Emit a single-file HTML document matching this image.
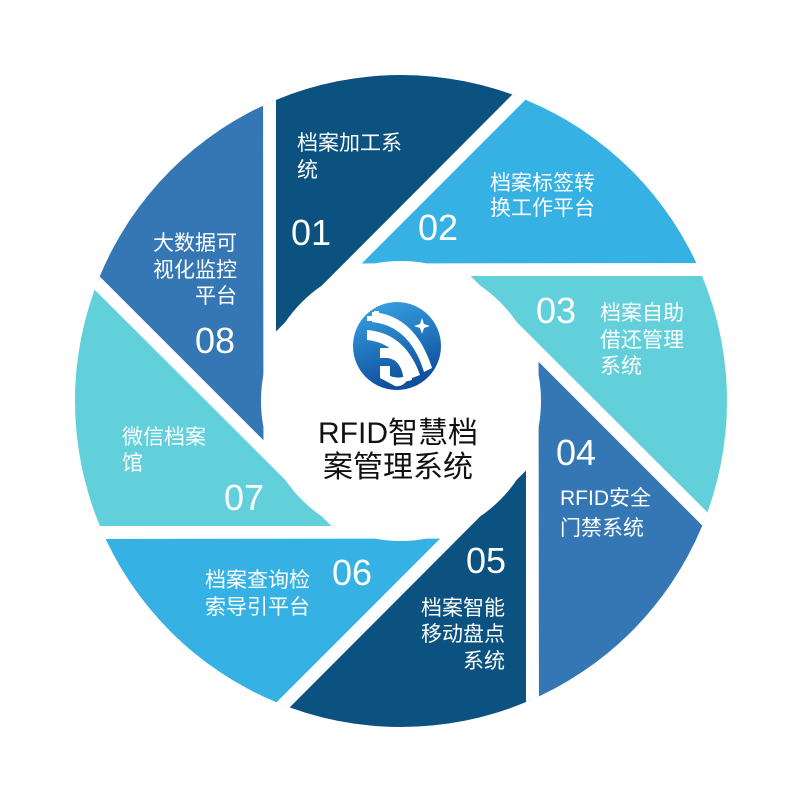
<!DOCTYPE html>
<html><head><meta charset="utf-8"><style>
html,body{margin:0;padding:0;background:#fff;width:800px;height:800px;overflow:hidden;position:relative;}
svg{display:block;position:absolute;left:0;top:0;overflow:hidden}
text{font-family:"Liberation Sans","Noto Sans CJK SC",sans-serif;fill:#fff;}
.l{font-size:21px}
.n{font-size:36px}
</style></head><body>
<svg width="800" height="800" viewBox="0 0 800 800">
<defs>
<clipPath id="c"><circle cx="401" cy="401" r="326"/></clipPath>
<linearGradient id="g" x1="0" y1="0" x2="0.3" y2="1">
<stop offset="0" stop-color="#3aa7e6"/><stop offset="1" stop-color="#0f4f9e"/>
</linearGradient>
</defs>
<g clip-path="url(#c)" stroke="#fff" stroke-width="12" stroke-linejoin="miter">
<polygon points="270,346 270,-300 1100,-486" fill="#0b5281" transform="rotate(0 401 401)"/>
<polygon points="270,346 270,-300 1100,-486" fill="#35b1e3" transform="rotate(45 401 401)"/>
<polygon points="270,346 270,-300 1100,-486" fill="#62d0db" transform="rotate(90 401 401)"/>
<polygon points="270,346 270,-300 1100,-486" fill="#3577b4" transform="rotate(135 401 401)"/>
<polygon points="270,346 270,-300 1100,-486" fill="#0b5281" transform="rotate(180 401 401)"/>
<polygon points="270,346 270,-300 1100,-486" fill="#35b1e3" transform="rotate(225 401 401)"/>
<polygon points="270,346 270,-300 1100,-486" fill="#62d0db" transform="rotate(270 401 401)"/>
<polygon points="270,346 270,-300 1100,-486" fill="#3577b4" transform="rotate(315 401 401)"/>
</g>
<circle cx="401" cy="401" r="140" fill="#fff"/>
<circle cx="397" cy="346" r="44" fill="url(#g)"/>
<path d="M372 312 Q415 315 432 368 L424 372 Q410 326 372 322Z" fill="#fff"/>
<path d="M367 330 Q405 333 420 375 L412 378 Q398 343 367 340Z" fill="#fff"/>
<path d="M380 348 L395 348 Q410 355 412 380 L404 382 Q402 360 388 358 L380 358Z" fill="#fff"/>
<path d="M380 366 L390 366 L390 376 Q400 380 410 374 Q405 388 395 386 L380 378Z" fill="#fff"/>
<rect x="367" y="316" width="5" height="5" fill="#fff"/><rect x="374" y="311" width="5" height="5" fill="#fff"/>
<path d="M422 318 l2 6 6 2 -6 2 -2 6 -2 -6 -6 -2 6 -2z" fill="#fff"/>
<text x="398" y="443" text-anchor="middle" style="fill:#111;font-size:30px">RFID智慧档</text>
<text x="398" y="477" text-anchor="middle" style="fill:#111;font-size:30px">案管理系统</text>
<text class="l" x="297" y="150">档案加工系</text><text class="l" x="297" y="177">统</text>
<text class="n" x="291" y="245">01</text>
<text class="l" x="490" y="190">档案标签转</text><text class="l" x="490" y="215">换工作平台</text>
<text class="n" x="418" y="240">02</text>
<text class="n" x="536" y="323">03</text>
<text class="l" x="600" y="320">档案自助</text><text class="l" x="600" y="347">借还管理</text><text class="l" x="600" y="373">系统</text>
<text class="n" x="556" y="465">04</text>
<text class="l" x="560" y="505">RFID安全</text><text class="l" x="560" y="535">门禁系统</text>
<text class="n" x="466" y="573">05</text>
<text class="l" x="505" y="615" text-anchor="end">档案智能</text><text class="l" x="505" y="641" text-anchor="end">移动盘点</text><text class="l" x="505" y="668" text-anchor="end">系统</text>
<text class="n" x="332" y="585">06</text>
<text class="l" x="205" y="587">档案查询检</text><text class="l" x="205" y="614">索导引平台</text>
<text class="l" x="122" y="444">微信档案</text><text class="l" x="122" y="470">馆</text>
<text class="n" x="224" y="510">07</text>
<text class="l" x="237" y="250" text-anchor="end">大数据可</text><text class="l" x="237" y="277" text-anchor="end">视化监控</text><text class="l" x="237" y="303" text-anchor="end">平台</text>
<text class="n" x="195" y="353">08</text>
</svg>
</body></html>
